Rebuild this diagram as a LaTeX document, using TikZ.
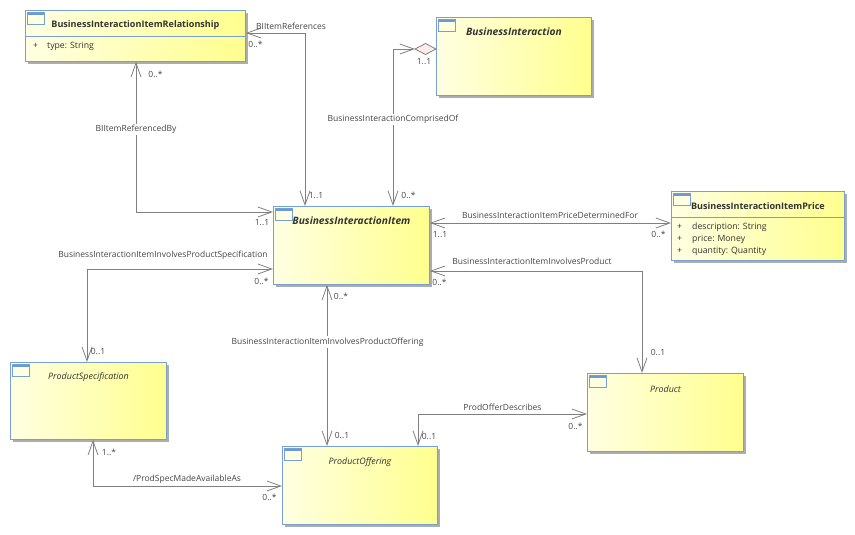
\documentclass[tikz,border=0pt]{standalone}
\usepackage{fontspec}
\setmainfont{Open Sans}
\usetikzlibrary{arrows.meta,calc,shadows}
\definecolor{boxL}{HTML}{FFFFE2}
\definecolor{boxR}{HTML}{FFFF8E}
\definecolor{boxB}{HTML}{76A0D4}
\definecolor{lineC}{HTML}{808080}
\definecolor{txtC}{HTML}{454545}
\definecolor{ttlC}{HTML}{333333}
\definecolor{iconB}{HTML}{6A9AD6}
\definecolor{diaF}{HTML}{FAEDEB}
\tikzset{
  cls/.style={draw=boxB, line width=0.9pt, left color=boxL, right color=boxR,
    anchor=north west, inner sep=0pt,
    drop shadow={shadow xshift=3pt, shadow yshift=-3pt, fill=black!32, opacity=1}},
  ttl/.style={text=ttlC, font=\fontsize{9.05}{10}\selectfont\bfseries, inner sep=0pt},
  ttli/.style={text=ttlC, font=\fontsize{10.2}{11}\selectfont\bfseries\itshape, inner sep=0pt},
  ttlr/.style={text=ttlC, font=\fontsize{8.9}{10}\selectfont\itshape, inner sep=0pt},
  attr/.style={text=ttlC, font=\fontsize{8.7}{10}\selectfont, inner sep=0pt, anchor=west},
  lbl/.style={text=txtC, font=\fontsize{8.5}{10}\selectfont, inner sep=0pt},
  lblw/.style={lbl, fill=white, inner sep=1.5pt},
  mult/.style={text=txtC, font=\fontsize{8.5}{10}\selectfont, inner sep=0pt},
  assoc/.style={draw=lineC, line width=0.8pt, <->},
  sep/.style={draw=boxB, line width=0.8pt},
  clsicon/.pic={
    \fill[boxL] (0,0) rectangle (17,12);
    \fill[iconB] (0,0) rectangle (17,3);
    \draw[boxB, line width=0.8pt] (0,0) rectangle (17,12);
  }
}
\begin{document}
\begin{tikzpicture}[x=1pt,y=-1pt,
  >={Straight Barb[length=14pt,width=10pt]}]
\useasboundingbox (0,0) rectangle (855,535);

% classes
\node[cls, minimum width=220pt, minimum height=51pt] (biir) at (25,10) {};
\node[cls, minimum width=155pt, minimum height=78pt] (bi) at (436,17) {};
\node[cls, minimum width=156pt, minimum height=78pt] (bii) at (273,206) {};
\node[cls, minimum width=173pt, minimum height=69pt] (biip) at (671,191) {};
\node[cls, minimum width=156pt, minimum height=77pt] (ps) at (10,362) {};
\node[cls, minimum width=155pt, minimum height=78pt] (po) at (282,446) {};
\node[cls, minimum width=156pt, minimum height=78pt] (prod) at (587,373) {};

% compartments
\draw[sep] ($(biir.north west)+(0,26)$) -- ($(biir.north east)+(0,26)$);
\draw[sep] ($(biip.north west)+(0,26)$) -- ($(biip.north east)+(0,26)$);

% icons
\foreach \n in {biir,bi,bii,biip,ps,po,prod}
  \pic at ($(\n.north west)+(2,2)$) {clsicon};

% titles
\node[ttl]  (tbiir) at ($(biir.north)+(0,15)$) {BusinessInteractionItemRelationship};
\node[ttli] (tbi)   at ($(bi.north)+(0,15)$)   {BusinessInteraction};
\node[ttli] (tbii)  at ($(bii.north)+(0,15)$)  {BusinessInteractionItem};
\node[ttl]  (tbiip) at ($(biip.north)+(0,15)$) {BusinessInteractionItemPrice};
\node[ttlr] (tps)   at ($(ps.north)+(0,15)$)   {ProductSpecification};
\node[ttlr] (tpo)   at ($(po.north)+(0,16)$)   {ProductOffering};
\node[ttlr] (tprod) at ($(prod.north)+(0,16)$) {Product};

% attributes
\node[attr] (a1p) at ($(biir.north west)+(8,36)$) {+};
\node[attr] (a1)  at ($(biir.north west)+(22,36)$) {type: String};
\node[attr] (a2p) at ($(biip.north west)+(6,36)$) {+};
\node[attr] (a2)  at ($(biip.north west)+(21,36)$) {description: String};
\node[attr] (a3p) at ($(biip.north west)+(6,48)$) {+};
\node[attr] (a3)  at ($(biip.north west)+(21,48)$) {price: Money};
\node[attr] (a4p) at ($(biip.north west)+(6,60)$) {+};
\node[attr] (a4)  at ($(biip.north west)+(21,60)$) {quantity: Quantity};

% aggregation diamond
\coordinate (dtip) at ($(bi.north west)+(-21,32)$);
\draw[draw=lineC, fill=diaF, line width=0.8pt] (dtip) -- ++(10.5,-5.5) -- ++(10.5,5.5) -- ++(-10.5,5.5) -- cycle;

% connectors
\draw[assoc] ($(biir.north east)+(0,23)$) -| ($(bii.north west)+(32,0)$);
\draw[assoc] ($(biir.south west)+(111,0)$) |- ($(bii.north west)+(0,6)$);
\draw[assoc] (dtip) -| ($(bii.north west)+(120,0)$);
\draw[assoc] ($(bii.north east)+(0,17)$) -- ($(biip.north west)+(0,32)$);
\draw[assoc] ($(bii.north east)+(0,65)$) -| ($(prod.north west)+(55,0)$);
\draw[assoc] ($(bii.north west)+(0,63)$) -| ($(ps.north west)+(77,0)$);
\draw[assoc] ($(bii.south west)+(54,0)$) -- ($(po.north west)+(45,0)$);
\draw[assoc] ($(prod.north west)+(0,41)$) -| ($(po.north west)+(136,0)$);
\draw[assoc] ($(ps.south west)+(83,0)$) |- ($(po.north west)+(0,40)$);

% association labels
\node[lbl]  (l1) at (291,26)  {BIItemReferences};
\node[lblw] (l2) at (136,129.5) {BIItemReferencedBy};
\node[lblw] (l3) at (393,119.5) {BusinessInteractionComprisedOf};
\node[lbl]  (l4) at (550,215.5) {BusinessInteractionItemPriceDeterminedFor};
\node[lbl]  (l5) at (532,261.5) {BusinessInteractionItemInvolvesProduct};
\node[lbl]  (l6) at (163,255.5) {BusinessInteractionItemInvolvesProductSpecification};
\node[lblw] (l7) at (327.5,342) {BusinessInteractionItemInvolvesProductOffering};
\node[lbl]  (l8) at (502.5,407) {ProdOfferDescribes};
\node[lbl]  (l9) at (187,479) {/ProdSpecMadeAvailableAs};

% multiplicities
\node[mult] (m1)  at (255.5,44)  {0..*};
\node[mult] (m2)  at (155.5,74)  {0..*};
\node[mult] (m3)  at (316,196)   {1..1};
\node[mult] (m4)  at (262,223)   {1..1};
\node[mult] (m5)  at (424,61.5)  {1..1};
\node[mult] (m6)  at (408.5,195) {0..*};
\node[mult] (m7)  at (440,235)   {1..1};
\node[mult] (m8)  at (658.5,234.5) {0..*};
\node[mult] (m9)  at (439.5,282.5) {0..*};
\node[mult] (m10) at (261.5,281) {0..*};
\node[mult] (m11) at (98,351)    {0..1};
\node[mult] (m12) at (341,296.5) {0..*};
\node[mult] (m13) at (342,435)   {0..1};
\node[mult] (m14) at (429,436)   {0..1};
\node[mult] (m15) at (269.5,497.5) {0..*};
\node[mult] (m16) at (658,352)   {0..1};
\node[mult] (m17) at (575.5,426) {0..*};
\node[mult] (m18) at (109,452)   {1..*};
\end{tikzpicture}
\end{document}
